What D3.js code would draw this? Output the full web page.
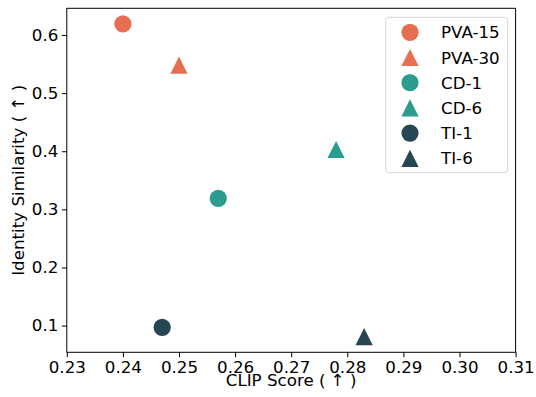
<!DOCTYPE html>
<html>
<head>
<meta charset="utf-8">
<script src="https://cdn.jsdelivr.net/npm/d3@7"></script>
<style>
	body { margin: 0; background: #fff; }
	text { font-family: 'DejaVu Sans', sans-serif; fill: #000; }
</style>
</head>
<body>
<div id="chart"></div>
<script>
// data
const methods = ['PVA-15', 'PVA-30', 'CD-1', 'CD-6', 'TI-1', 'TI-6'];
const clipScore = [0.240, 0.250, 0.257, 0.278, 0.247, 0.283];
const identitySim = [0.619, 0.548, 0.319, 0.403, 0.097, 0.081];
const shapes = ['circle', 'triangle', 'circle', 'triangle', 'circle', 'triangle'];
const colors = ['#E76F51', '#E76F51', '#2A9D8F', '#2A9D8F', '#264653', '#264653'];
const xTicks = [0.23, 0.24, 0.25, 0.26, 0.27, 0.28, 0.29, 0.30, 0.31];
const yTicks = [0.1, 0.2, 0.3, 0.4, 0.5, 0.6];

const W = 536, H = 397;
const margin = { top: 8.3, right: 20.4, bottom: 44.7, left: 66.8 };
const fontSize = 16.7;
const markerHalf = 8.6;

const svg = d3.select('#chart').append('svg')
	.attr('width', W)
	.attr('height', H);

// matplotlib-like 5% margins on y
const yMin = d3.min(identitySim), yMax = d3.max(identitySim);
const yPad = (yMax - yMin) * 0.05;

const x = d3.scaleLinear()
	.domain([0.23, 0.31])
	.range([margin.left, W - margin.right]);

const y = d3.scaleLinear()
	.domain([yMin - yPad, yMax + yPad])
	.range([H - margin.bottom, margin.top]);

const triangle = {
	draw(ctx, size) {
		const r = Math.sqrt(size) / 2;
		ctx.moveTo(0, -r);
		ctx.lineTo(r, r);
		ctx.lineTo(-r, r);
		ctx.closePath();
	}
};

function markerPath(shape) {
	if (shape === 'circle') {
		return d3.symbol(d3.symbolCircle, Math.PI * markerHalf * markerHalf)();
	}
	return d3.symbol(triangle, (2 * markerHalf) * (2 * markerHalf))();
}

//
// axes
//
const xAxis = svg.append('g')
	.attr('transform', `translate(0,${H - margin.bottom})`)
	.call(d3.axisBottom(x).tickValues(xTicks).tickFormat(d3.format('.2f')).tickSize(4.9).tickPadding(3.5));

const yAxis = svg.append('g')
	.attr('transform', `translate(${margin.left},0)`)
	.call(d3.axisLeft(y).tickValues(yTicks).tickFormat(d3.format('.1f')).tickSize(4.9).tickPadding(3.5));

[xAxis, yAxis].forEach(a => {
	a.select('.domain').remove();
	a.selectAll('.tick line').attr('stroke', '#000').attr('stroke-width', 1);
	a.selectAll('.tick text')
		.style('font-family', "'DejaVu Sans', sans-serif")
		.style('font-size', fontSize + 'px')
		.attr('fill', '#000');
});

// frame
svg.append('rect')
	.attr('x', margin.left)
	.attr('y', margin.top)
	.attr('width', W - margin.right - margin.left)
	.attr('height', H - margin.bottom - margin.top)
	.attr('fill', 'none')
	.attr('stroke', '#000')
	.attr('stroke-width', 1);

//
// points
//
svg.append('g').selectAll('path')
	.data(methods)
	.enter()
	.append('path')
	.attr('transform', (d, i) => `translate(${x(clipScore[i])},${y(identitySim[i])})`)
	.attr('d', (d, i) => markerPath(shapes[i]))
	.attr('fill', (d, i) => colors[i]);

//
// axis labels
//
svg.append('text')
	.attr('x', (margin.left + W - margin.right) / 2)
	.attr('y', 386)
	.attr('text-anchor', 'middle')
	.style('font-size', fontSize + 'px')
	.text('CLIP Score ( ↑ )');

svg.append('text')
	.attr('transform', `translate(24.4,${(margin.top + H - margin.bottom) / 2}) rotate(-90)`)
	.attr('text-anchor', 'middle')
	.style('font-size', fontSize + 'px')
	.text('Identity Similarity ( ↑ )');

//
// legend
//
const legend = svg.append('g');

legend.append('rect')
	.attr('x', 385.7)
	.attr('y', 17.3)
	.attr('width', 122)
	.attr('height', 155.4)
	.attr('rx', 3)
	.attr('fill', '#fff')
	.attr('fill-opacity', 0.8)
	.attr('stroke', '#d6d6d6')
	.attr('stroke-width', 1);

const rows = legend.selectAll('g.row')
	.data(methods)
	.enter()
	.append('g')
	.attr('class', 'row')
	.attr('transform', (d, i) => `translate(410,${32.3 + i * 25.2})`);

rows.append('path')
	.attr('d', (d, i) => markerPath(shapes[i]))
	.attr('fill', (d, i) => colors[i]);

rows.append('text')
	.attr('x', 31)
	.attr('dy', '0.36em')
	.style('font-size', fontSize + 'px')
	.text(d => d);
</script>
</body>
</html>
